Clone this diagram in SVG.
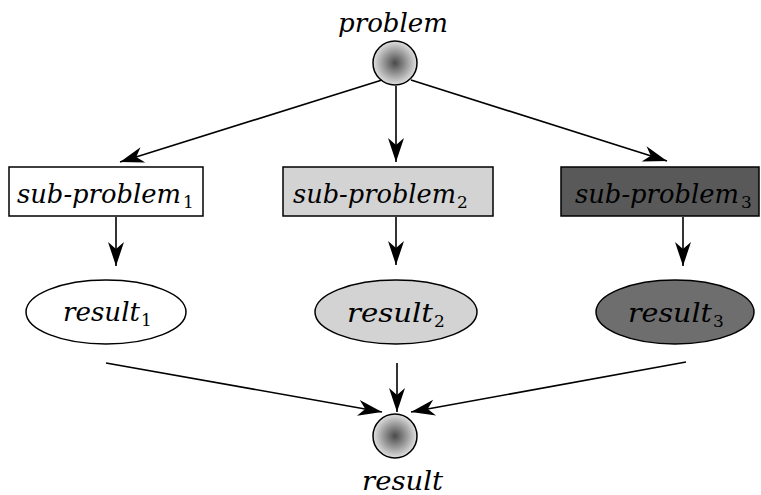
<svg xmlns="http://www.w3.org/2000/svg" width="761" height="495" viewBox="0 0 761 495">
<defs>
<radialGradient id="ball" cx="50%" cy="50%" r="50%">
<stop offset="0" stop-color="#4a4a4a"/>
<stop offset="1" stop-color="#e0e0e0"/>
</radialGradient>
<marker id="ah" markerUnits="userSpaceOnUse" markerWidth="26" markerHeight="18" viewBox="-25 -9 26 18" refX="0" refY="0" orient="auto">
<path d="M0,0 L-24,-8 L-17,0 L-24,8 Z" fill="#000"/>
</marker>
</defs>
<style>
.lbl{font-family:'DejaVu Serif','Liberation Serif',serif;font-style:italic;font-size:26px;fill:#000}
.sub{font-family:'DejaVu Serif','Liberation Serif',serif;font-style:normal;font-size:17px;fill:#000}
.node{stroke:#000;stroke-width:1.5}
.edge{stroke:#000;stroke-width:1.6;fill:none;marker-end:url(#ah)}
</style>
<rect width="761" height="495" fill="#fff"/>
<g id="edges">
<line class="edge" x1="382" y1="80" x2="120" y2="162"/>
<line class="edge" x1="396" y1="86" x2="396" y2="162"/>
<line class="edge" x1="411" y1="80" x2="667" y2="161"/>
<line class="edge" x1="116" y1="217" x2="116" y2="266"/>
<line class="edge" x1="396" y1="217" x2="396" y2="265"/>
<line class="edge" x1="683" y1="217" x2="683" y2="266"/>
<line class="edge" x1="106" y1="363" x2="382" y2="412"/>
<line class="edge" x1="397" y1="363" x2="397" y2="412"/>
<line class="edge" x1="686" y1="362" x2="411" y2="412"/>
</g>
<g id="problem">
<circle class="node" cx="395" cy="63" r="22" fill="url(#ball)"/>
<text class="lbl" x="338" y="32" textLength="110" lengthAdjust="spacingAndGlyphs">problem</text>
</g>
<g id="sub1">
<rect class="node" x="9" y="167" width="194" height="49" fill="#fff"/>
<text class="lbl" x="17" y="203" textLength="164" lengthAdjust="spacingAndGlyphs">sub-problem</text>
<text class="sub" x="183" y="208">1</text>
</g>
<g id="sub2">
<rect class="node" x="283" y="167" width="210" height="49" fill="#d3d3d3"/>
<text class="lbl" x="293" y="203" textLength="163" lengthAdjust="spacingAndGlyphs">sub-problem</text>
<text class="sub" x="457" y="208">2</text>
</g>
<g id="sub3">
<rect class="node" x="561" y="167" width="198" height="49" fill="#595959"/>
<text class="lbl" x="575" y="203" textLength="164" lengthAdjust="spacingAndGlyphs">sub-problem</text>
<text class="sub" x="741" y="208">3</text>
</g>
<g id="result1">
<ellipse class="node" cx="106" cy="312" rx="80" ry="32" fill="#fff"/>
<text class="lbl" x="63" y="321" textLength="77" lengthAdjust="spacingAndGlyphs">result</text>
<text class="sub" x="141" y="326">1</text>
</g>
<g id="result2">
<ellipse class="node" cx="396" cy="312" rx="81" ry="32" fill="#d3d3d3"/>
<text class="lbl" x="347" y="322" textLength="86" lengthAdjust="spacingAndGlyphs">result</text>
<text class="sub" x="434" y="327">2</text>
</g>
<g id="result3">
<ellipse class="node" cx="675" cy="312" rx="79" ry="32" fill="#6e6e6e"/>
<text class="lbl" x="628" y="322" textLength="84" lengthAdjust="spacingAndGlyphs">result</text>
<text class="sub" x="713" y="327">3</text>
</g>
<g id="result">
<circle class="node" cx="395" cy="436" r="22" fill="url(#ball)"/>
<text class="lbl" x="362" y="490" textLength="81" lengthAdjust="spacingAndGlyphs">result</text>
</g>
</svg>
